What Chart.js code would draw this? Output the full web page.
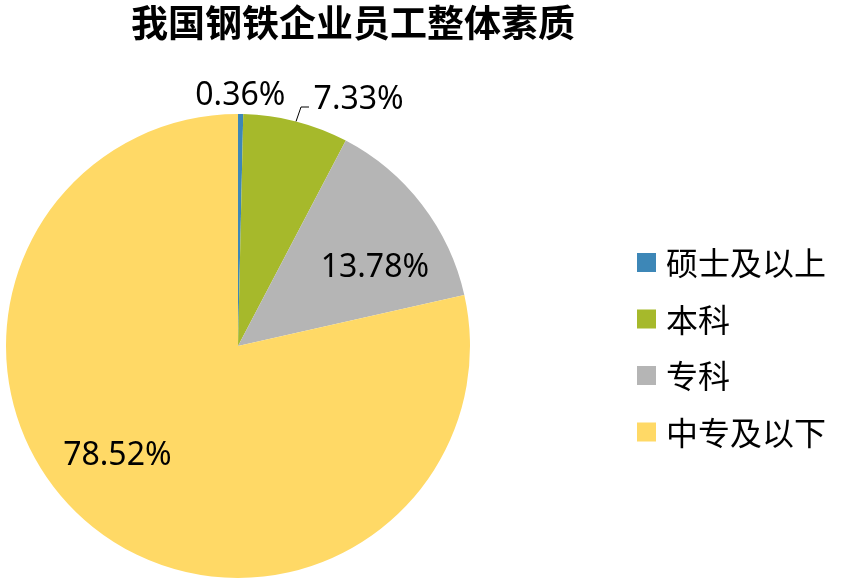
<!DOCTYPE html>
<html>
<head>
<meta charset="utf-8">
<script src="https://cdn.jsdelivr.net/npm/chart.js@4"></script>
<style>
html,body{margin:0;padding:0;background:#fff;}
#wrap{width:854px;height:583px;position:relative;}
</style>
</head>
<body>
<div id="wrap"><canvas id="pie"></canvas></div>
<script>
var TITLE = "我国钢铁企业员工整体素质";
var CATEGORIAS = ["硕士及以上", "本科", "专科", "中专及以下"];
var VALORES = [0.36, 7.33, 13.78, 78.52];
var COLORES = ["#3D87B7", "#A6B92B", "#B5B5B5", "#FFD966"];

// posicion de cada etiqueta, relativa al centro y en unidades del radio
var POS_ETIQ = [
	{dx: 0.01, dy: -1.08},
	{dx: 0.52, dy: -1.06},
	{dx: 0.59, dy: -0.336},
	{dx: -0.52, dy: 0.474}
];

var cjk = '"Noto Sans CJK SC", "Noto Sans", sans-serif';

var extras = {
	id: 'extras',
	afterDraw: function(chart){
		var ctx = chart.ctx;
		var arc = chart.getDatasetMeta(0).data[0];
		var cx = arc.x, cy = arc.y, r = arc.outerRadius;
		ctx.save();
		// titulo
		ctx.fillStyle = '#000';
		ctx.font = 'bold 37px ' + cjk;
		ctx.textAlign = 'center';
		ctx.textBaseline = 'middle';
		ctx.fillText(TITLE, 353, 23);
		// etiquetas de datos
		ctx.font = '32px "Noto Sans", "Open Sans", sans-serif';
		for (var i = 0; i < VALORES.length; i++){
			var p = POS_ETIQ[i];
			ctx.fillText(VALORES[i].toFixed(2) + '%', cx + p.dx * r, cy + p.dy * r);
		}
		// linea guia de 7.33%
		var a = chart.getDatasetMeta(0).data[1];
		var mid = (a.startAngle + a.endAngle) / 2;
		var x0 = cx + Math.cos(mid) * r * 1.0, y0 = cy + Math.sin(mid) * r * 1.0;
		ctx.strokeStyle = '#000';
		ctx.lineWidth = 1;
		ctx.beginPath();
		ctx.moveTo(x0, y0);
		ctx.lineTo(301, 107);
		ctx.lineTo(309, 107);
		ctx.stroke();
		// leyenda
		ctx.textAlign = 'left';
		ctx.font = '32px ' + cjk;
		for (var j = 0; j < CATEGORIAS.length; j++){
			var y = 263 + j * 56.5;
			ctx.fillStyle = COLORES[j];
			ctx.fillRect(637, y - 10, 19, 19);
			ctx.fillStyle = '#000';
			ctx.fillText(CATEGORIAS[j], 666, y);
		}
		ctx.restore();
	}
};

new Chart(document.getElementById('pie').getContext('2d'), {
	type: 'pie',
	data: {
		labels: CATEGORIAS,
		datasets: [{
			data: VALORES,
			backgroundColor: COLORES,
			borderWidth: 0
		}]
	},
	options: {
		responsive: true,
		maintainAspectRatio: false,
		animation: false,
		layout: {padding: {left: 6, top: 114, right: 384, bottom: 5}},
		plugins: {
			legend: {display: false},
			title: {display: false},
			tooltip: {enabled: false}
		}
	},
	plugins: [extras]
});
</script>
</body>
</html>
